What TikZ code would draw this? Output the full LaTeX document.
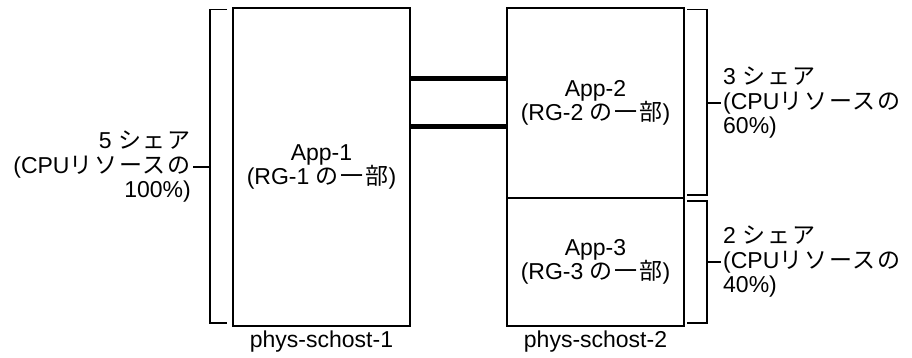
\documentclass[tikz,border=0pt]{standalone}
\usepackage{fontspec}
\setmainfont{Liberation Sans}
\newfontfamily\jp[LetterSpace=8]{Noto Sans CJK JP}
\tikzset{
  box/.style={draw, line width=1.3pt, inner sep=0pt, align=center,
    font=\fontsize{23}{24.5}\selectfont},
  link/.style={line width=5pt},
  brace/.style={line width=1.3pt},
  lbl/.style={inner sep=0pt, font=\fontsize{23}{24.5}\selectfont},
}
\begin{document}
\begin{tikzpicture}[x=1pt,y=-1pt]
\useasboundingbox (0,0) rectangle (912,357);

% hosts and applications
\node[box, minimum width=177, minimum height=318] (app1) at (321.5,167)
  {App-1\\(RG-1 {\jp の一部})};
\node[box, minimum width=177, minimum height=190] (app2) at (595.5,103)
  {App-2\\(RG-2 {\jp の一部})};
\node[box, minimum width=177, minimum height=128] (app3) at (595.5,262)
  {App-3\\(RG-3 {\jp の一部})};

% interconnects
\draw[link] (app1.east |- 0,78) -- (app2.west |- 0,78);
\draw[link] (app1.east |- 0,126) -- (app2.west |- 0,126);

% host names
\node[lbl] (h1) at (321.5,342) {phys-schost-1};
\node[lbl] (h2) at (595.5,342) {phys-schost-2};

% share brackets
\draw[brace] (227,9.5) -- (210,9.5) -- (210,323) -- (227,323);
\draw[brace] (210,167) -- (193,167);
\node[lbl, anchor=east, align=right] (s1) at (191,167)
  {5 {\jp シェア}\\(CPU{\jp リソースの}\\100\%)};

\draw[brace] (687,9.5) -- (707,9.5) -- (707,195) -- (687,195);
\draw[brace] (707,103) -- (721,103);
\node[lbl, anchor=west, align=left] (s2) at (723,103)
  {3 {\jp シェア}\\(CPU{\jp リソースの}\\60\%)};

\draw[brace] (687,201) -- (707,201) -- (707,323) -- (687,323);
\draw[brace] (707,262) -- (721,262);
\node[lbl, anchor=west, align=left] (s3) at (723,262)
  {2 {\jp シェア}\\(CPU{\jp リソースの}\\40\%)};
\end{tikzpicture}
\end{document}
